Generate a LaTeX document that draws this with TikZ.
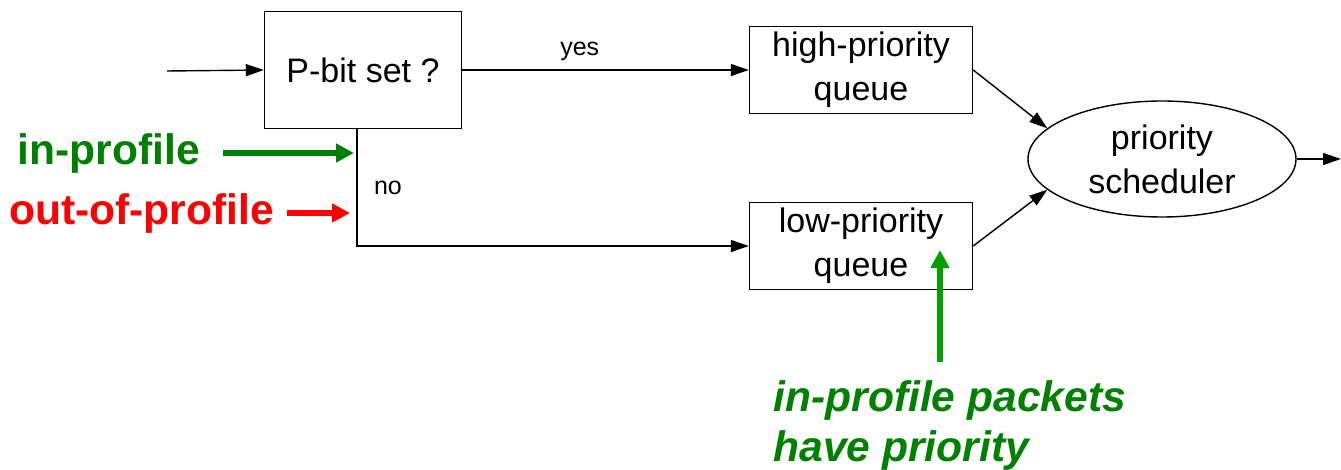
\documentclass[tikz,border=0pt]{standalone}
\usepackage{fontspec}
\setmainfont{Liberation Sans}
\usetikzlibrary{shapes,arrows.meta,positioning}
\definecolor{inprofgreen}{RGB}{0,128,0}
\definecolor{notegreen}{RGB}{0,160,0}
\definecolor{outprofred}{RGB}{255,0,0}

\begin{document}
\begin{tikzpicture}[
    x=0.5pt, y=-0.5pt,
    box/.style={rectangle, draw, line width=0.7pt, inner sep=0pt, align=center, font=\fontsize{17}{22}\selectfont},
    arrow/.style={-{Triangle[length=9pt,width=6pt]}, line width=0.7pt},
    fatarrow/.style={-{Triangle[length=9pt,width=9pt]}, line width=2.8pt},
    lbl/.style={font=\fontsize{12.5}{15}\selectfont},
    bigtxt/.style={inner sep=0pt, font=\fontsize{21.3}{25}\selectfont\bfseries}
]
\useasboundingbox (0,0) rectangle (1341,470);

\node[box, minimum width=98.5pt, minimum height=58.5pt] (pbit) at (363,70) {P-bit set ?};
\node[box, minimum width=111.5pt, minimum height=43.5pt] (high) at (861,70) {high-priority\\queue};
\node[box, minimum width=111.5pt, minimum height=43.5pt] (low) at (861,246) {low-priority\\queue};
\node[ellipse, draw, line width=0.7pt, inner sep=0pt, minimum width=134pt, minimum height=58pt,
      align=center, font=\fontsize{17}{22}\selectfont] (sched) at (1162,159) {priority\\scheduler};

\coordinate (inlet) at (167,71);
\coordinate (outlet) at (1341,159);
\coordinate (nobend) at (357,246);

% main flow
\draw[arrow] (inlet) -- (pbit.west);
\draw[arrow] (pbit.east) -- node[lbl, above=1pt, pos=0.41] (yes) {yes} (high.west);
\draw[arrow] (pbit.south -| nobend) |- (low.west);
\node[lbl] (no) at (388,188) {no};
\draw[arrow] (high.east) -- (sched.165);
\draw[arrow] (low.east) -- (sched.195);
\draw[arrow] (sched.east) -- (outlet);

% marking
\node[bigtxt, text=inprofgreen] (inprof) at (109,153) {in-profile};
\node[bigtxt, text=outprofred] (outprof) at (141.5,213) {out-of-profile};
\coordinate (inhit) at (354,153);
\coordinate (outhit) at (350,213);
\draw[fatarrow, inprofgreen, shorten <=11pt] (inprof.east) -- (inhit);
\draw[fatarrow, outprofred, shorten <=6.5pt] (outprof.east) -- (outhit);

% note
\node[bigtxt, font=\fontsize{21.3}{25}\selectfont\bfseries\itshape, text=inprofgreen, align=left,
      anchor=north west] (note) at (773,380) {in-profile packets\\have priority};
\coordinate (notefoot) at (940,362);
\coordinate (notetip) at (940,250);
\draw[fatarrow, notegreen] (notefoot) -- (notetip);

\end{tikzpicture}
\end{document}
